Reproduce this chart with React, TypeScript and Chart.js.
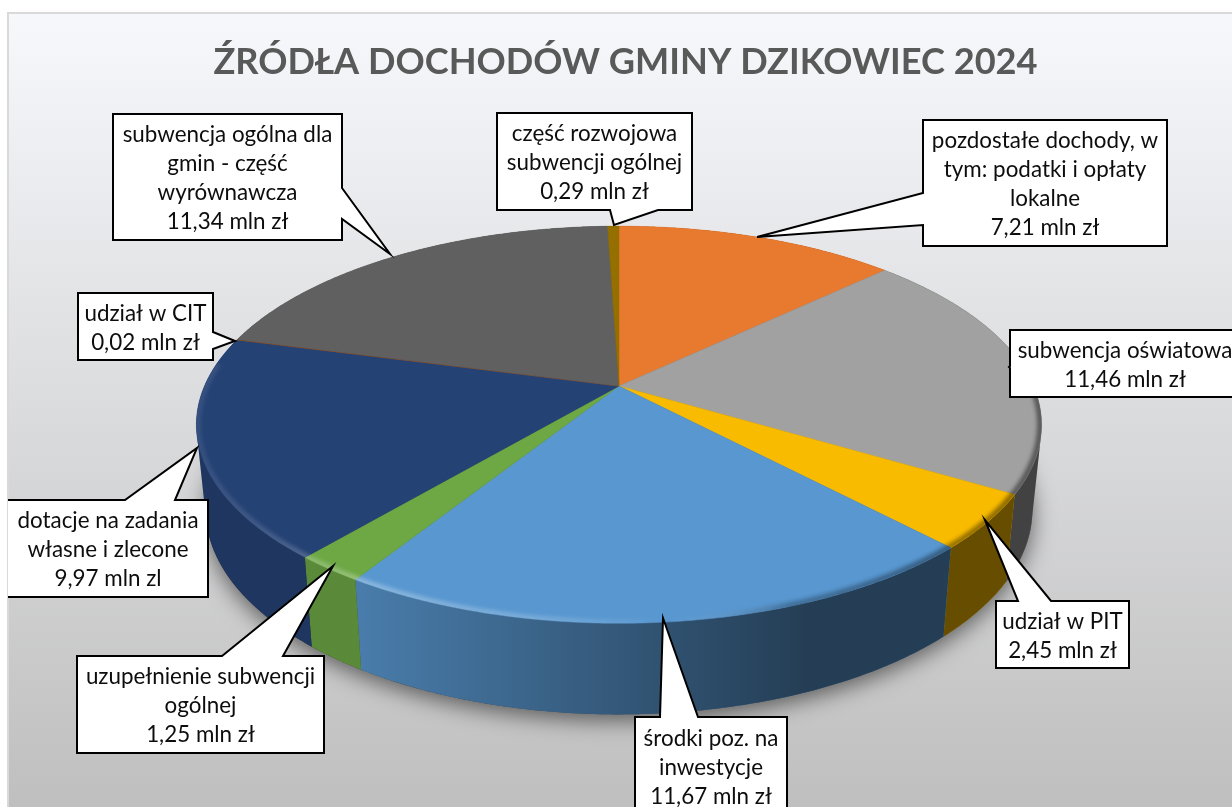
import React, { useEffect, useRef } from "react";
import { Chart, registerables } from "chart.js";

Chart.register(...registerables);

const titleText = "ŹRÓDŁA DOCHODÓW GMINY DZIKOWIEC 2024";
const categories = [
  "pozdostałe dochody, w tym: podatki i opłaty lokalne",
  "subwencja oświatowa",
  "udział w PIT",
  "środki poz. na inwestycje",
  "uzupełnienie subwencji ogólnej",
  "dotacje na zadania własne i zlecone",
  "udział w CIT",
  "subwencja ogólna dla gmin - część wyrównawcza",
  "część rozwojowa subwencji ogólnej",
];
const values = [7.21, 11.46, 2.45, 11.67, 1.25, 9.97, 0.02, 11.34, 0.29];
const units = ["mln zł", "mln zł", "mln zł", "mln zł", "mln zł", "mln zl", "mln zł", "mln zł", "mln zł"];
const wrappedNames = [
  ["pozdostałe dochody, w", "tym: podatki i opłaty", "lokalne"],
  ["subwencja oświatowa"],
  ["udział w PIT"],
  ["środki poz. na", "inwestycje"],
  ["uzupełnienie subwencji", "ogólnej"],
  ["dotacje na zadania", "własne i zlecone"],
  ["udział w CIT"],
  ["subwencja ogólna dla", "gmin - część", "wyrównawcza"],
  ["część rozwojowa", "subwencji ogólnej"],
];
const colors = ["#ED7D31", "#A5A5A5", "#FFC000", "#5B9BD5", "#70AD47", "#264478", "#9E480E", "#636363", "#997300"];

type Callout = {
  box: [number, number, number, number];
  side: "left" | "right" | "top" | "bottom";
  base: [number, number];
  tip: [number, number];
  textX?: number;
};
const callouts: Callout[] = [
  { box: [923, 120, 1167, 246], side: "left", base: [193, 225], tip: [757, 237] },
  { box: [1010, 330, 1240, 397], side: "left", base: [366, 368], tip: [1009, 367], textX: 1125 },
  { box: [996, 601, 1129, 668], side: "top", base: [1018, 1051], tip: [985, 520] },
  { box: [635, 717, 787, 815], side: "top", base: [660, 698], tip: [663, 618] },
  { box: [77, 656, 324, 753], side: "top", base: [222, 283], tip: [333, 566] },
  { box: [2, 500, 208, 597], side: "top", base: [125, 175], tip: [197, 448], textX: 108 },
  { box: [78, 293, 213, 360], side: "right", base: [332, 349], tip: [235, 341] },
  { box: [113, 114, 342, 240], side: "right", base: [188, 219], tip: [390, 254] },
  { box: [497, 113, 692, 210], side: "bottom", base: [610, 658], tip: [614, 225] },
];

const CX = 619;
const CY = 386;
const A = 414.5;
const B = 191;
const P = 0.195;
const WALL_CY = 470;
const WALL_SX = 0.978;
const WALL_SY = 1.03;

function topPoint(angle: number, r = 1): [number, number] {
  const u = r * Math.cos(angle);
  const v = r * Math.sin(angle);
  const w = 1 - P * v;
  return [CX + (A * u) / w, CY + (B * v) / w];
}
function wallPoint(angle: number): [number, number] {
  const u = Math.cos(angle);
  const v = Math.sin(angle);
  const w = 1 - P * v;
  return [CX + (WALL_SX * A * u) / w, WALL_CY + (WALL_SY * B * v) / w];
}
function samples(a0: number, a1: number): number[] {
  const n = Math.max(2, Math.ceil(Math.abs(a1 - a0) / 0.01));
  const out: number[] = [];
  for (let i = 0; i <= n; i++) out.push(a0 + ((a1 - a0) * i) / n);
  return out;
}
function sweepPath(a0: number, a1: number): Path2D {
  const path = new Path2D();
  const pts = samples(a0, a1);
  for (let i = 0; i < pts.length - 1; i++) {
    let q = [topPoint(pts[i]), topPoint(pts[i + 1]), wallPoint(pts[i + 1]), wallPoint(pts[i])];
    let area = 0;
    for (let k = 0; k < 4; k++) {
      const a = q[k];
      const b = q[(k + 1) % 4];
      area += a[0] * b[1] - b[0] * a[1];
    }
    if (area < 0) q = q.reverse();
    path.moveTo(q[0][0], q[0][1]);
    for (let k = 1; k < 4; k++) path.lineTo(q[k][0], q[k][1]);
    path.closePath();
  }
  return path;
}

const scenePlugin = {
  id: "scene",
  beforeDraw(chart: any) {
    const { ctx, width, height } = chart;
    ctx.save();
    ctx.fillStyle = "#ffffff";
    ctx.fillRect(0, 0, width, height);
    ctx.fillStyle = "#d9d9d9";
    ctx.fillRect(7, 12, width - 7, height - 12);
    const g = ctx.createLinearGradient(0, 14, 0, height);
    g.addColorStop(0, "#f7f8fc");
    g.addColorStop(1, "#bfbfbf");
    ctx.fillStyle = g;
    ctx.fillRect(9, 14, width - 9, height - 14);
    ctx.restore();
  },
  beforeDatasetsDraw(chart: any) {
    const { ctx } = chart;
    const arcs = chart.getDatasetMeta(0).data;
    ctx.save();

    // Drop shadow under the disc
    ctx.save();
    ctx.shadowColor = "rgba(0,0,0,0.55)";
    ctx.shadowBlur = 22;
    ctx.shadowOffsetY = 6;
    ctx.fillStyle = "#333";
    ctx.beginPath();
    samples(0, Math.PI * 2).forEach((a, i) => {
      const p = wallPoint(a);
      i ? ctx.lineTo(p[0], p[1]) : ctx.moveTo(p[0], p[1]);
    });
    ctx.closePath();
    ctx.fill();
    ctx.restore();

    // Walls
    arcs.forEach((el: any) => {
      const color = el.options.backgroundColor;
      const path = sweepPath(el.startAngle, el.endAngle);
      const shade = ctx.createLinearGradient(190, 0, 1045, 0);
      shade.addColorStop(0, "rgba(0,0,0,0.2)");
      shade.addColorStop(0.2, "rgba(0,0,0,0.2)");
      shade.addColorStop(0.72, "rgba(0,0,0,0.6)");
      shade.addColorStop(1, "rgba(0,0,0,0.6)");
      ctx.fillStyle = color;
      ctx.fill(path);
      ctx.fillStyle = shade;
      ctx.fill(path);
    });

    // Top surface
    const disc = new Path2D();
    arcs.forEach((el: any) => {
      const color = el.options.backgroundColor;
      ctx.beginPath();
      ctx.moveTo(CX, CY);
      samples(el.startAngle, el.endAngle).forEach((a) => {
        const p = topPoint(a);
        ctx.lineTo(p[0], p[1]);
      });
      ctx.closePath();
      ctx.fillStyle = color;
      ctx.fill();
      ctx.strokeStyle = color;
      ctx.lineWidth = 0.5;
      ctx.stroke();
    });
    samples(0, Math.PI * 2).forEach((a, i) => {
      const p = topPoint(a);
      i ? disc.lineTo(p[0], p[1]) : disc.moveTo(p[0], p[1]);
    });
    disc.closePath();
    ctx.fillStyle = "rgba(0,0,0,0.025)";
    ctx.fill(disc);

    // Bevel along the front rim, clipped to the top surface
    const rim = (r: number) => {
      ctx.beginPath();
      samples(0.02, Math.PI + 0.12).forEach((a, i) => {
        const p = topPoint(a, r);
        i ? ctx.lineTo(p[0], p[1]) : ctx.moveTo(p[0], p[1]);
      });
    };
    const light = ctx.createLinearGradient(190, 0, 1045, 0);
    light.addColorStop(0, "rgba(255,255,255,0.08)");
    light.addColorStop(0.1, "rgba(255,255,255,0.16)");
    light.addColorStop(0.2, "rgba(255,255,255,0.33)");
    light.addColorStop(0.42, "rgba(255,255,255,0.2)");
    light.addColorStop(0.56, "rgba(255,255,255,0)");
    light.addColorStop(0.7, "rgba(0,0,0,0.28)");
    light.addColorStop(1, "rgba(0,0,0,0.5)");
    ctx.save();
    ctx.clip(disc);
    ctx.strokeStyle = light;
    ctx.lineCap = "butt";
    ctx.filter = "blur(2px)";
    ctx.lineWidth = 6;
    rim(0.997);
    ctx.stroke();
    ctx.filter = "none";
    ctx.restore();
    ctx.restore();
    return false;
  },
  afterDraw(chart: any) {
    const { ctx, width, height } = chart;
    ctx.save();
    ctx.beginPath();
    ctx.rect(8, 0, width - 8, height);
    ctx.clip();
    callouts.forEach((c, i) => {
      const [x0, y0, x1, y1] = c.box;
      const [b0, b1] = c.base;
      ctx.beginPath();
      ctx.moveTo(x0, y0);
      if (c.side === "top") {
        ctx.lineTo(b0, y0);
        ctx.lineTo(c.tip[0], c.tip[1]);
        ctx.lineTo(b1, y0);
      }
      ctx.lineTo(x1, y0);
      if (c.side === "right") {
        ctx.lineTo(x1, b0);
        ctx.lineTo(c.tip[0], c.tip[1]);
        ctx.lineTo(x1, b1);
      }
      ctx.lineTo(x1, y1);
      if (c.side === "bottom") {
        ctx.lineTo(b1, y1);
        ctx.lineTo(c.tip[0], c.tip[1]);
        ctx.lineTo(b0, y1);
      }
      ctx.lineTo(x0, y1);
      if (c.side === "left") {
        ctx.lineTo(x0, b1);
        ctx.lineTo(c.tip[0], c.tip[1]);
        ctx.lineTo(x0, b0);
      }
      ctx.closePath();
      ctx.fillStyle = "#ffffff";
      ctx.fill();
      ctx.strokeStyle = "#000000";
      ctx.lineWidth = 2;
      ctx.lineJoin = "miter";
      ctx.stroke();

      const lines = [...wrappedNames[i], `${values[i].toFixed(2).replace(".", ",")} ${units[i]}`];
      const tx = c.textX ?? (x0 + x1) / 2;
      const midY = (y0 + y1) / 2 + 1.5;
      ctx.fillStyle = "#0d0d0d";
      ctx.font = "22.4px Lato";
      ctx.textAlign = "center";
      ctx.textBaseline = "middle";
      lines.forEach((t, k) => {
        ctx.fillText(t, tx, midY + (k - (lines.length - 1) / 2) * 29);
      });
    });
    ctx.restore();
  },
};

export default function App() {
  const ref = useRef<HTMLCanvasElement>(null);
  useEffect(() => {
    if (!ref.current) return;
    const chart = new Chart(ref.current, {
      type: "pie",
      data: {
        labels: categories,
        datasets: [{ data: values, backgroundColor: colors, borderWidth: 0 }],
      },
      options: {
        responsive: false,
        animation: false,
        layout: { padding: { left: 19 } },
        plugins: {
          legend: { display: false },
          tooltip: { enabled: false },
          title: {
            display: true,
            text: titleText,
            color: "#595959",
            fullSize: false,
            font: { family: "Lato", size: 36.2, weight: "bold" },
            padding: { top: 41, bottom: 10 },
          },
        },
      },
      plugins: [scenePlugin],
    } as any);
    return () => chart.destroy();
  }, []);
  return (
    <canvas
      ref={ref}
      width={1232}
      height={807}
      style={{ position: "absolute", left: 0, top: 0, width: 1232, height: 807, display: "block" }}
    />
  );
}
